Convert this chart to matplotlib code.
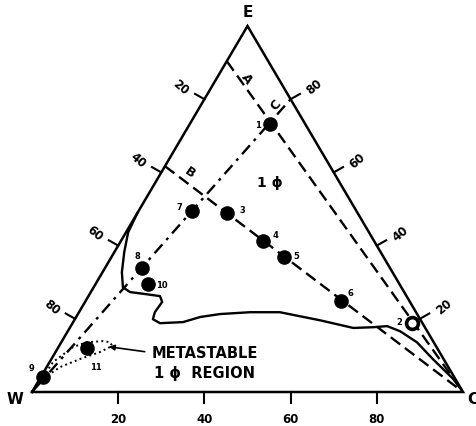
import numpy as np
import matplotlib.pyplot as plt

# compositions in percent (W, E, C); W = 100 - E - C
pt_names = ["1", "2", "3", "4", "5", "6", "7", "8", "9", "10", "11"]
pt_E = [73.1, 18.8, 48.8, 41.3, 36.8, 24.8, 49.4, 33.8, 4.1, 29.5, 12.0]
pt_C = [18.7, 78.7, 20.8, 33.0, 40.1, 59.2, 12.4, 8.6, 0.5, 12.2, 6.8]
open_pts = ["2"]

# phase boundary (solid)
bnd_E = [49.0, 43.6, 38.2, 32.7, 28.6, 27.3, 26.7, 26.2, 24.6, 21.8, 19.9, 18.8,
         19.1, 20.5, 21.3, 21.8, 21.8, 19.6, 17.5, 17.7, 18.0, 16.6, 13.6, 9.0, 3.6, 0.0]
bnd_C = [0.0, 0.5, 2.3, 4.5, 6.8, 9.1, 13.3, 16.6, 17.9, 17.6, 18.1, 20.3,
         25.5, 28.8, 33.0, 39.7, 46.6, 57.0, 65.8, 70.3, 73.4, 77.1, 82.5, 88.5, 95.9, 100.0]

# metastable one-phase region (dotted loop)
meta_E = [4.1, 8.2, 12.3, 13.6, 13.9, 13.6, 12.6, 10.9, 9.0, 6.8, 4.4, 4.1]
meta_C = [0.5, 0.8, 3.4, 5.9, 9.5, 11.3, 12.3, 10.3, 6.6, 3.1, 1.3, 0.5]

# tie lines: A and B dashed to C corner, C dash-dot from W corner
lineA_E = [90.4, 0.0]
lineA_C = [0.0, 100.0]
lineB_E = [61.7, 0.0]
lineB_C = [0.0, 100.0]
lineC_E = [0.0, 80.0]
lineC_C = [0.0, 20.0]

ticks = [20, 40, 60, 80]

H = np.sqrt(3) / 2


def tern(E, C):
    E = np.asarray(E) / 100.0
    C = np.asarray(C) / 100.0
    return C + E / 2, E * H


fig = plt.figure(figsize=(4.77, 4.27), dpi=100)
ax = fig.add_axes([32 / 477, 34 / 427, 431 / 477, 366 / 427])
ax.set_xlim(0, 1)
ax.set_ylim(0, H)
ax.axis("off")

# triangle
tx, ty = tern([0, 0, 100, 0], [0, 100, 0, 0])
ax.plot(tx, ty, color="black", lw=1.8, solid_joinstyle="miter", clip_on=False)

# ticks and labels
tl = 0.025
for t in ticks:
    # bottom: C %
    x, y = tern(0, t)
    ax.plot([x, x], [y, y - tl], color="black", lw=1.5, clip_on=False)
    ax.text(x, y - 0.062, str(t), ha="center", va="center", fontsize=8.5,
            fontweight="bold")
    # left: W %
    x, y = tern(100 - t, 0)
    ax.plot([x, x - tl * 0.866], [y, y + tl * 0.5], color="black", lw=1.5, clip_on=False)
    ax.text(x - 0.055, y + 0.03, str(t), ha="center", va="center", fontsize=8.5,
            fontweight="bold", rotation=-40)
    # right: E %
    x, y = tern(t, 100 - t)
    ax.plot([x, x + tl * 0.866], [y, y + tl * 0.5], color="black", lw=1.5, clip_on=False)
    ax.text(x + 0.055, y + 0.03, str(t), ha="center", va="center", fontsize=8.5,
            fontweight="bold", rotation=40)

# tie lines
x, y = tern(lineA_E, lineA_C)
ax.plot(x, y, color="black", lw=1.7, dashes=(5, 2.5))
x, y = tern(lineB_E, lineB_C)
ax.plot(x, y, color="black", lw=1.7, dashes=(5, 2.5))
x, y = tern(lineC_E, lineC_C)
ax.plot(x, y, color="black", lw=1.7, dashes=(5, 2.5, 1.2, 2.5))

# boundary and metastable loop
x, y = tern(bnd_E, bnd_C)
ax.plot(x, y, color="black", lw=1.7)
x, y = tern(meta_E, meta_C)
ax.plot(x, y, color="black", lw=1.4, ls=":")

# points
lab_off = {"1": (-9, 0), "2": (-9, 1.5), "3": (11, 3), "4": (9, 4.5), "5": (9, 1.5),
           "6": (7, 6.5), "7": (-9, 3.5), "8": (-3, 9.5), "9": (-8, 6.5),
           "10": (6, 0), "11": (6, -13)}
px, py = tern(pt_E, pt_C)
for n, x, y in zip(pt_names, px, py):
    if n in open_pts:
        ax.plot(x, y, "o", ms=8.5, mfc="white", mec="black", mew=2.6)
    else:
        ax.plot(x, y, "o", ms=9.5, color="black")
    ha = "left" if n == "10" else "center"
    ax.annotate(n, (x, y), xytext=lab_off[n], textcoords="offset points",
                ha=ha, va="center", fontsize=6, fontweight="bold")

# vertex labels
ax.text(0.5, H + 0.034, "E", ha="center", va="center", fontsize=11, fontweight="bold")
ax.text(-0.04, -0.016, "W", ha="center", va="center", fontsize=11, fontweight="bold")
ax.text(1.022, -0.016, "C", ha="center", va="center", fontsize=11, fontweight="bold")

# line letters
ax.text(0.499, 0.744, "A", ha="center", va="center", fontsize=9, fontweight="bold", rotation=-54)
ax.text(0.367, 0.522, "B", ha="center", va="center", fontsize=9, fontweight="bold", rotation=-35)
ax.text(0.566, 0.681, "C", ha="center", va="center", fontsize=9, fontweight="bold", rotation=48)

ax.text(0.552, 0.498, "1 \u03d5", ha="center", va="center", fontsize=10, fontweight="bold")

ax.text(0.401, 0.0945, "METASTABLE", ha="center", va="center", fontsize=10.5, fontweight="bold")
ax.text(0.401, 0.047, "1 \u03d5  REGION", ha="center", va="center", fontsize=10.5, fontweight="bold")
ax.annotate("", xy=(0.172, 0.108), xytext=(0.268, 0.0945),
            arrowprops=dict(arrowstyle="-|>", color="black", lw=1.2, mutation_scale=8))

fig.savefig("out.png", dpi=100)
